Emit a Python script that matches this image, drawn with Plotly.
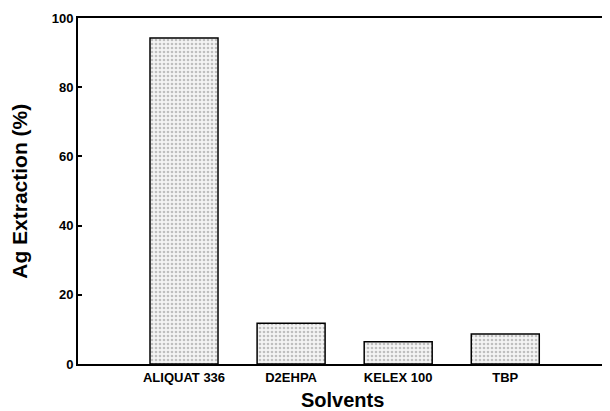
import plotly.graph_objects as go

categories = ["ALIQUAT 336", "D2EHPA", "KELEX 100", "TBP"]
extraction = [94.2, 11.8, 6.4, 8.7]
y_ticks = [0, 20, 40, 60, 80, 100]

fig = go.Figure()
fig.add_trace(go.Bar(
    x=list(range(len(categories))),
    y=extraction,
    width=0.635,
    marker=dict(
        color="#f2f2f2",
        line=dict(color="black", width=1.5),
        pattern=dict(shape=".", fgcolor="#8a8a8a", bgcolor="#f4f4f4", size=4, solidity=0.35),
    ),
))

fig.update_layout(
    width=602, height=403,
    margin=dict(l=70, r=3, t=10, b=47, autoexpand=False),
    plot_bgcolor="white", paper_bgcolor="white",
    showlegend=False,
    font=dict(family="Liberation Sans, Arial, sans-serif", color="black"),
    annotations=[
        dict(text="<b>Solvents</b>", xref="paper", yref="paper", x=0.5, y=-0.104,
             xanchor="center", yanchor="middle", showarrow=False, font=dict(size=20)),
        dict(text="<b>Ag Extraction (%)</b>", xref="paper", yref="paper", x=-0.112, y=0.5,
             xanchor="center", yanchor="middle", textangle=-90, showarrow=False, font=dict(size=21)),
    ],
)
fig.update_xaxes(
    range=[-0.99, 3.95],
    tickvals=list(range(len(categories))),
    ticktext=[f"<b>{c}</b>" for c in categories],
    tickfont=dict(size=13),
    ticks="", showgrid=False, zeroline=False, automargin=False,
    showline=True, linecolor="black", linewidth=2, mirror=True,
)
fig.update_yaxes(
    range=[0, 100],
    tickvals=y_ticks,
    ticktext=[f"<b>{t}</b>" for t in y_ticks],
    tickfont=dict(size=13),
    ticks="inside", ticklen=4, tickwidth=1.5, tickcolor="black",
    showgrid=False, zeroline=False, automargin=False,
    showline=True, linecolor="black", linewidth=2, mirror=True,
)

fig.write_html("out.html")
